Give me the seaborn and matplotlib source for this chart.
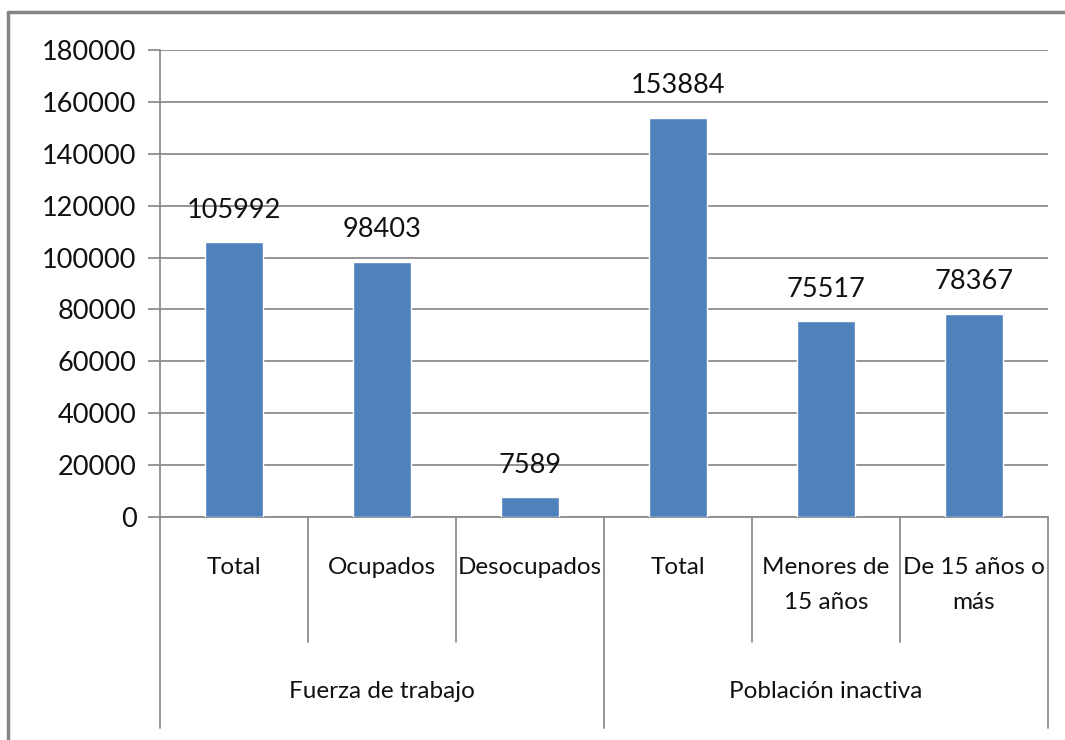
import matplotlib
matplotlib.use("Agg")
import matplotlib.pyplot as plt
import matplotlib.transforms as mtransforms
from matplotlib.lines import Line2D
import seaborn as sns
import pandas as pd

groups = ["Fuerza de trabajo", "Fuerza de trabajo", "Fuerza de trabajo",
          "Población inactiva", "Población inactiva", "Población inactiva"]
subcats = ["Total", "Ocupados", "Desocupados", "Total",
           "Menores de\n15 años", "De 15 años o\nmás"]
values = [105992, 98403, 7589, 153884, 75517, 78367]
group_names = ["Fuerza de trabajo", "Población inactiva"]
yticks = [0, 20000, 40000, 60000, 80000, 100000, 120000, 140000, 160000, 180000]

sns.set_theme(style="white")
plt.rcParams['font.family'] = ['Lato', 'DejaVu Sans']

df = pd.DataFrame({"key": [f"{g}|{s}" for g, s in zip(groups, subcats)],
                   "sub": subcats, "value": values})

fig = plt.figure(figsize=(10.65, 7.4), dpi=100)
ax = fig.add_axes([160/1065, 1-517/740, (1048-160)/1065, 467/740])

sns.barplot(data=df, x="key", y="value", color="#4F81BD", width=0.39,
            saturation=1, ax=ax, zorder=3)

ax.set_ylim(0, 180000)
ax.set_xlim(-0.5, 5.5)
ax.set_yticks(yticks)
ax.set_yticklabels([str(v) for v in yticks], fontsize=19.5, color="#111111")
ax.yaxis.grid(True, color="#8c8c8c", linewidth=1.3, zorder=0)
ax.set_axisbelow(True)
ax.tick_params(axis="y", length=9, width=1.3, color="#8c8c8c", direction="out", pad=8, left=True)
ax.tick_params(axis="x", length=0, pad=29)
ax.set_xticks(range(len(subcats)))
ax.set_xticklabels(subcats, fontsize=17.5, color="#111111", va="top", linespacing=1.8)
ax.set_xlabel("")
ax.set_ylabel("")
for s in ["top", "right"]:
    ax.spines[s].set_visible(False)
for s in ["left", "bottom"]:
    ax.spines[s].set_color("#8c8c8c")
    ax.spines[s].set_linewidth(1.3)

for i, v in enumerate(values):
    ax.annotate(str(v), (i, v), xytext=(0, 14), textcoords="offset points",
                ha="center", va="bottom", fontsize=19.5, color="#111111")

trans = mtransforms.blended_transform_factory(ax.transData, ax.transAxes)
ax_h = 467
for b in [-0.5, 0.5, 1.5, 2.5, 3.5, 4.5, 5.5]:
    outer = b in (-0.5, 2.5, 5.5)
    y_end = -(728 - 517) / ax_h if outer else -(642 - 517) / ax_h
    ax.add_line(Line2D([b, b], [0, y_end], transform=trans, color="#8c8c8c",
                       linewidth=1.3, clip_on=False))

for gi, g in enumerate(group_names):
    ax.text(gi * 3 + 1, -(692 - 517) / ax_h, g, transform=trans, ha="center",
            va="center", fontsize=17.5, color="#111111")

# chart area border
fig.add_artist(Line2D([8/1065, 8/1065], [0, 1-12/740], transform=fig.transFigure,
                      color="#858585", linewidth=2.5))
fig.add_artist(Line2D([8/1065, 1], [1-12/740, 1-12/740], transform=fig.transFigure,
                      color="#858585", linewidth=2.5))

fig.savefig("out.png", dpi=100)
